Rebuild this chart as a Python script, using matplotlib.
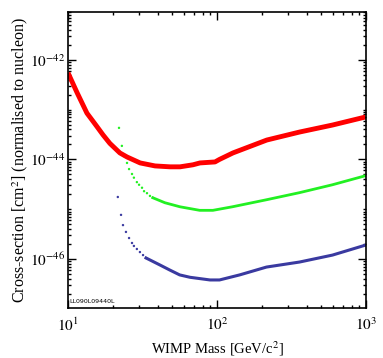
import numpy as np
import matplotlib

matplotlib.use("Agg")
import matplotlib.pyplot as plt
from matplotlib.ticker import LogLocator, FixedLocator, NullFormatter, FixedFormatter

plt.rcParams["font.family"] = ["Liberation Serif", "DejaVu Serif"]
plt.rcParams["mathtext.fontset"] = "stix"

# values (mass in GeV/c^2, cross-section in cm^2)
red_mass = [10.0, 11.5, 13.4, 14.5, 15.7, 17.2, 19.1, 22.3, 24.9, 30.5, 38.4, 48.4, 56.5, 69.0, 76.9, 97.0,
            104.0, 128.0, 216.0, 359.0, 596.0, 991.0]
red_xsec = [5.5e-43, 2.2e-43, 8.5e-44, 6.2e-44, 4.5e-44, 3.1e-44, 2.1e-44, 1.35e-44, 1.12e-44, 8.5e-45,
            7.4e-45, 7.1e-45, 7.1e-45, 7.8e-45, 8.5e-45, 8.9e-45, 1.0e-44, 1.35e-44, 2.45e-44, 3.55e-44,
            4.9e-44, 7.1e-44]

green_dot_mass = [22.0, 23.0, 23.7, 24.9, 25.7, 26.9, 27.7, 29.0, 30.0, 31.4, 32.4, 33.9, 35.5, 37.1]
green_dot_xsec = [4.3e-44, 1.87e-44, 1.17e-44, 8.5e-45, 6.4e-45, 5.1e-45, 4.3e-45, 3.5e-45, 3.1e-45,
                  2.7e-45, 2.3e-45, 2.1e-45, 1.85e-45, 1.7e-45]
green_mass = [37.1, 44.7, 56.4, 76.6, 93.9, 127.0, 215.0, 358.0, 596.0, 991.0]
green_xsec = [1.7e-45, 1.35e-45, 1.12e-45, 9.5e-46, 9.5e-46, 1.12e-45, 1.55e-45, 2.15e-45, 3.1e-45, 4.7e-45]

blue_dot_mass = [21.6, 22.7, 23.4, 24.5, 25.7, 26.9, 27.7, 29.0, 30.4, 31.9, 33.4]
blue_dot_xsec = [1.76e-45, 7.7e-46, 4.8e-46, 3.5e-46, 2.64e-46, 2.1e-46, 1.83e-46, 1.59e-46, 1.38e-46,
                 1.2e-46, 1.05e-46]
blue_mass = [33.4, 41.4, 48.3, 56.2, 65.9, 89.8, 104.0, 142.0, 215.0, 358.0, 596.0, 991.0]
blue_xsec = [1.05e-46, 7.6e-47, 6.0e-47, 4.8e-47, 4.3e-47, 3.8e-47, 3.8e-47, 4.8e-47, 6.9e-47, 8.7e-47,
             1.2e-46, 1.9e-46]

x_major = [10, 100, 1000]
x_labels = ["$10^1$", "$10^2$", "$10^3$"]
y_major = [1e-46, 1e-44, 1e-42]
y_labels = ["$10^{-46}$", "$10^{-44}$", "$10^{-42}$"]

fig = plt.figure(figsize=(3.83, 3.58), dpi=100)
ax = fig.add_axes([0.1775, 0.1397, 0.778, 0.826])

ax.plot(red_mass, red_xsec, color="#ff0000", lw=3.5, solid_capstyle="butt")
ax.plot(green_mass, green_xsec, color="#22f022", lw=2.0)
ax.scatter(green_dot_mass, green_dot_xsec, s=3, color="#22f022", edgecolors="none")
ax.plot(blue_mass, blue_xsec, color="#3a3aa0", lw=2.2)
ax.scatter(blue_dot_mass, blue_dot_xsec, s=3, color="#3a3aa0", edgecolors="none")

ax.set_xscale("log")
ax.set_yscale("log")
ax.set_xlim(10, 1000)
ax.set_ylim(1.04e-47, 9.0e-42)

ax.xaxis.set_major_locator(FixedLocator(x_major))
ax.xaxis.set_major_formatter(FixedFormatter(x_labels))
ax.xaxis.set_minor_locator(LogLocator(base=10, subs=np.arange(2, 10), numticks=20))
ax.xaxis.set_minor_formatter(NullFormatter())
ax.yaxis.set_major_locator(FixedLocator(y_major))
ax.yaxis.set_major_formatter(FixedFormatter(y_labels))
ax.yaxis.set_minor_locator(LogLocator(base=10, subs=np.arange(1, 10), numticks=30))
ax.yaxis.set_minor_formatter(NullFormatter())

ax.tick_params(which="both", direction="in", top=True, right=True, width=1.0)
ax.tick_params(which="major", length=6, labelsize=11)
ax.tick_params(axis="x", which="major", pad=6)
ax.tick_params(axis="y", which="major", pad=2)
ax.tick_params(which="minor", length=2.5)
for sp in ax.spines.values():
    sp.set_linewidth(1.2)

ax.set_xlabel("WIMP Mass [GeV/c$^2$]", fontsize=10.5, labelpad=4)
ax.set_ylabel("Cross-section [cm$^2$] (normalised to nucleon)", fontsize=11.5, labelpad=0)

ax.text(0.003, 0.012, "LL090L09440L", transform=ax.transAxes, fontsize=4.5,
        family="DejaVu Sans", ha="left", va="bottom")

fig.savefig("out.png", dpi=100)
